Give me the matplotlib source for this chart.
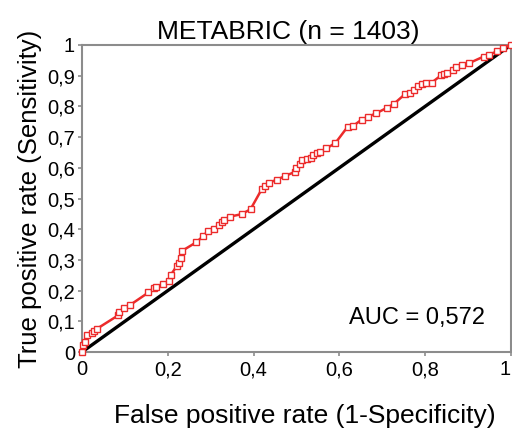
import matplotlib
matplotlib.use("Agg")
import matplotlib.pyplot as plt
from matplotlib.ticker import FuncFormatter

plt.rcParams['font.family'] = ['Liberation Sans', 'DejaVu Sans']

# ROC points (false positive rate, true positive rate)
fpr = [0.0, 0.003, 0.007, 0.012, 0.023, 0.028, 0.034, 0.085, 0.086, 0.099,
       0.112, 0.155, 0.168, 0.172, 0.19, 0.204, 0.207, 0.221, 0.226, 0.23,
       0.234, 0.266, 0.283, 0.294, 0.308, 0.32, 0.326, 0.331, 0.345, 0.372,
       0.393, 0.419, 0.427, 0.437, 0.454, 0.473, 0.497, 0.5, 0.508, 0.514,
       0.524, 0.533, 0.538, 0.549, 0.556, 0.57, 0.591, 0.619, 0.631, 0.652,
       0.667, 0.685, 0.712, 0.727, 0.754, 0.765, 0.775, 0.784, 0.793, 0.803,
       0.815, 0.838, 0.844, 0.852, 0.866, 0.873, 0.885, 0.903, 0.936, 0.949,
       0.967, 0.982, 1.0]
tpr = [0.0, 0.023, 0.034, 0.055, 0.063, 0.069, 0.075, 0.12, 0.131, 0.144,
       0.153, 0.194, 0.209, 0.213, 0.222, 0.232, 0.251, 0.28, 0.291, 0.305,
       0.33, 0.357, 0.378, 0.395, 0.401, 0.414, 0.423, 0.43, 0.441, 0.449,
       0.465, 0.53, 0.541, 0.552, 0.561, 0.573, 0.587, 0.598, 0.612, 0.625,
       0.627, 0.631, 0.642, 0.647, 0.652, 0.663, 0.681, 0.733, 0.735, 0.757,
       0.766, 0.777, 0.796, 0.808, 0.841, 0.845, 0.853, 0.866, 0.872, 0.875,
       0.877, 0.902, 0.904, 0.908, 0.919, 0.928, 0.935, 0.941, 0.962, 0.968,
       0.979, 0.99, 1.0]

chance = [0, 1]
x_ticks = [0, 0.2, 0.4, 0.6, 0.8, 1.0]
y_ticks = [0, 0.1, 0.2, 0.3, 0.4, 0.5, 0.6, 0.7, 0.8, 0.9, 1.0]

GRAY = "#8c8c8c"
RED = "#ec2b2b"

fig = plt.figure(figsize=(5.12, 4.32), dpi=100)
ax = fig.add_axes([0.160, 0.185, 0.838, 0.711])

ax.plot(chance, chance, color="black", linewidth=2.4, zorder=2)
ax.plot(fpr, tpr, color=RED, linewidth=1.8, marker="s", markersize=5,
        markerfacecolor="white", markeredgecolor=RED, markeredgewidth=1.0,
        clip_on=False, zorder=3)

ax.set_xlim(0, 1)
ax.set_ylim(0, 1)
ax.set_xticks(x_ticks)
ax.set_yticks(y_ticks)

comma = FuncFormatter(lambda v, p: ("%g" % round(v, 2)).replace(".", ","))
ax.xaxis.set_major_formatter(comma)
ax.yaxis.set_major_formatter(comma)

for s in ax.spines.values():
    s.set_color(GRAY)
    s.set_linewidth(1.5)
ax.tick_params(axis="both", colors=GRAY, labelcolor="black", labelsize=14.5,
               width=1.2, length=3)
ax.tick_params(axis="x", pad=3)
ax.tick_params(axis="y", pad=2)
fig.canvas.draw()
ax.get_xticklabels()[-1].set_horizontalalignment("right")

ax.set_title("METABRIC (n = 1403)", fontsize=19, pad=4, x=0.48)
ax.set_xlabel("False positive rate (1-Specificity)", fontsize=19, labelpad=18)
ax.xaxis.label.set_x(0.52)
ax.set_ylabel("True positive rate (Sensitivity)", fontsize=18.5, labelpad=4)
ax.text(0.78, 0.11, "AUC = 0,572", transform=ax.transAxes, ha="center",
        va="center", fontsize=17)

fig.savefig("out.png", dpi=100, facecolor="white")
